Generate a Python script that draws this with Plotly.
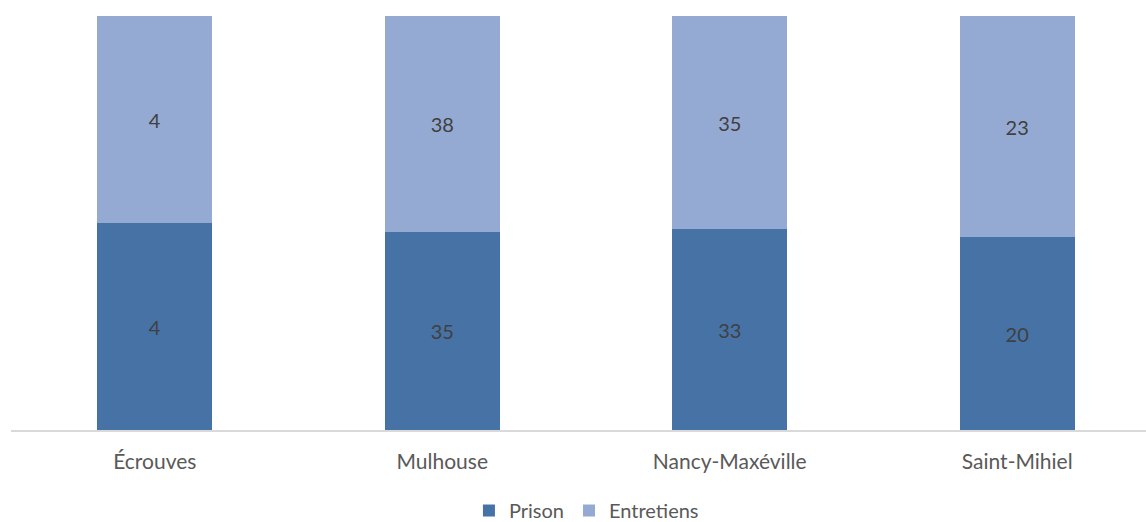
import plotly.graph_objects as go

categories = ["Écrouves", "Mulhouse", "Nancy-Maxéville", "Saint-Mihiel"]
prison = [4, 35, 33, 20]
entretiens = [4, 38, 35, 23]

font_family = "Lato, 'Open Sans', sans-serif"

fig = go.Figure()
fig.add_trace(go.Bar(
    x=categories, y=prison, name="Prison", width=0.4,
    marker=dict(color="#4672A6", line=dict(width=0)),
    text=[str(v) for v in prison], textposition="inside", insidetextanchor="middle",
    textfont=dict(color="#404040", size=20, family=font_family),
))
fig.add_trace(go.Bar(
    x=categories, y=entretiens, name="Entretiens", width=0.4,
    marker=dict(color="#95AAD2", line=dict(width=0)),
    text=[str(v) for v in entretiens], textposition="inside", insidetextanchor="middle",
    textfont=dict(color="#404040", size=20, family=font_family),
))

fig.update_layout(
    barmode="stack", barnorm="percent",
    width=1146, height=522,
    margin=dict(l=11, r=0, t=16, b=92, autoexpand=False),
    paper_bgcolor="white", plot_bgcolor="white",
    font=dict(family=font_family, color="#595959", size=20),
    showlegend=True,
    legend=dict(orientation="h", x=0.507, xanchor="center",
                yref="container", y=0.022, yanchor="middle",
                font=dict(size=20, color="#595959"), traceorder="normal",
                itemwidth=30),
)
fig.update_xaxes(showline=True, linecolor="#D9D9D9", linewidth=2, ticks="",
                 tickfont=dict(size=21, color="#595959"), showgrid=False,
                 automargin=False, ticklabelstandoff=12, range=[-0.5, 3.448])
fig.update_yaxes(visible=False, range=[0, 100], showgrid=False, automargin=False)

fig.write_html(
    "out.html",
    config={"displayModeBar": False},
    post_script="document.body.style.margin='0';document.body.style.overflow='hidden';",
)
